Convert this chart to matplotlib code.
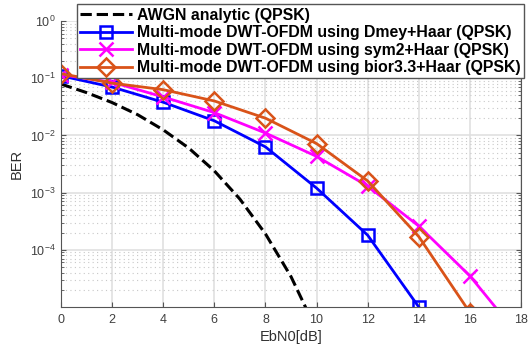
import numpy as np
import matplotlib.pyplot as plt
from matplotlib.ticker import LogLocator, NullFormatter

plt.rcParams['font.family'] = ['Liberation Sans', 'DejaVu Sans']

# values
ebn0 = [0, 2, 4, 6, 8, 10, 12, 14, 16, 18]
ebn0_awgn = [0, 1, 2, 3, 4, 5, 6, 7, 8, 9, 10]
ber_awgn = [0.079, 0.056, 0.0375, 0.023, 0.0125, 0.006, 0.0024, 7.7e-4, 1.9e-4, 3.4e-5, 3.9e-6]
ber_dmey = [0.11, 0.07, 0.038, 0.018, 0.0063, 0.0012, 1.8e-4, 1.0e-5]
ber_sym2 = [0.115, 0.085, 0.047, 0.025, 0.011, 0.0043, 1.3e-3, 2.6e-4, 3.5e-5, 2.8e-6]
ber_bior = [0.12, 0.082, 0.063, 0.04, 0.02, 0.0072, 1.6e-3, 1.7e-4, 8e-6]

labels = ['AWGN analytic (QPSK)',
          'Multi-mode DWT-OFDM using Dmey+Haar (QPSK)',
          'Multi-mode DWT-OFDM using sym2+Haar (QPSK)',
          'Multi-mode DWT-OFDM using bior3.3+Haar (QPSK)']

fig = plt.figure(figsize=(5.28, 3.48), dpi=100)
ax = fig.add_axes([61/528, 1-307/348, 460/528, 286/348])

ax.semilogy(ebn0_awgn, ber_awgn, 'k--', lw=2.2, label=labels[0])
ax.semilogy(ebn0[:len(ber_dmey)], ber_dmey, '-s', color='#0000FF', lw=2, ms=8,
            mfc='none', mew=1.8, label=labels[1])
ax.semilogy(ebn0[:len(ber_sym2)], ber_sym2, '-x', color='#FF00FF', lw=2, ms=10,
            mew=1.8, label=labels[2])
ax.semilogy(ebn0[:len(ber_bior)], ber_bior, '-D', color='#D95319', lw=2, ms=9,
            mfc='none', mew=1.8, label=labels[3])

ax.set_xlim(0, 18)
ax.set_ylim(1e-5, 1)
ax.set_xticks(range(0, 19, 2))
ax.set_yticks([1e0, 1e-1, 1e-2, 1e-3, 1e-4])
ax.yaxis.set_minor_locator(LogLocator(base=10, subs=np.arange(2, 10), numticks=20))
ax.yaxis.set_minor_formatter(NullFormatter())
ax.grid(True, which='major', color='#e0e0e0', lw=1.2, ls='-')
ax.grid(True, which='minor', axis='y', color='#c8c8c8', lw=0.8, ls=(0, (1, 3)))
ax.tick_params(which='both', direction='in', labelsize=9, colors='#555555',
               top=False, right=True)
ax.tick_params(axis='x', labelcolor='#404040', pad=5)
ax.tick_params(axis='y', labelcolor='#404040', pad=4)
for s in ax.spines.values():
    s.set_color('#555555')
ax.spines['top'].set_visible(False)

ax.set_xlabel('EbN0[dB]', fontsize=10.5, color='#303030', labelpad=3)
ax.set_ylabel('BER', fontsize=10.5, color='#303030', labelpad=4)

leg = ax.legend(loc='upper left', bbox_to_anchor=(16/460, 1.058),
                prop={'weight': 'bold', 'size': 11.4}, frameon=True, fancybox=False,
                edgecolor='#555555', framealpha=1, borderpad=0.2, labelspacing=0.16,
                handlelength=3.3, handletextpad=0.3, borderaxespad=0)
leg.get_frame().set_linewidth(1)

fig.savefig('out.png', dpi=100)
